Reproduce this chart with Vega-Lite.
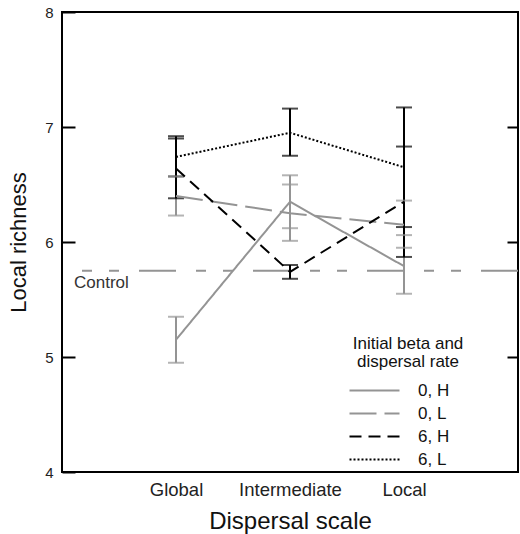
{
  "$schema": "https://vega.github.io/schema/vega-lite/v6.json",
  "autosize": {"type": "none"},
  "width": 456,
  "height": 460,
  "padding": {"left": 62, "top": 12, "right": 2, "bottom": 62},
  "background": "white",
  "config": {
    "font": "Liberation Sans",
    "view": {"stroke": "black", "strokeWidth": 2},
    "axis": {"labelColor": "#222", "titleColor": "#111", "titleFontWeight": "normal", "grid": false, "domain": false}
  },
  "datasets": {
    "pts": [
      {"scale": "Global", "series": "0, H", "beta": "0", "mean": 5.15, "lo": 4.95, "hi": 5.35},
      {"scale": "Global", "series": "0, L", "beta": "0", "mean": 6.40, "lo": 6.23, "hi": 6.57},
      {"scale": "Intermediate", "series": "0, H", "beta": "0", "mean": 6.35, "lo": 6.12, "hi": 6.58},
      {"scale": "Intermediate", "series": "0, L", "beta": "0", "mean": 6.25, "lo": 6.01, "hi": 6.50},
      {"scale": "Local", "series": "0, H", "beta": "0", "mean": 5.79, "lo": 5.55, "hi": 6.06},
      {"scale": "Local", "series": "0, L", "beta": "0", "mean": 6.15, "lo": 5.95, "hi": 6.36},
      {"scale": "Global", "series": "6, H", "beta": "6", "mean": 6.64, "lo": 6.38, "hi": 6.90},
      {"scale": "Global", "series": "6, L", "beta": "6", "mean": 6.74, "lo": 6.57, "hi": 6.92},
      {"scale": "Intermediate", "series": "6, H", "beta": "6", "mean": 5.74, "lo": 5.68, "hi": 5.80},
      {"scale": "Intermediate", "series": "6, L", "beta": "6", "mean": 6.95, "lo": 6.75, "hi": 7.16},
      {"scale": "Local", "series": "6, H", "beta": "6", "mean": 6.35, "lo": 5.87, "hi": 6.83},
      {"scale": "Local", "series": "6, L", "beta": "6", "mean": 6.65, "lo": 6.13, "hi": 7.17}
    ],
    "control": [{"label": "Control", "value": 5.75, "scale": "Global"}]
  },
  "resolve": {"axis": {"x": "independent", "y": "independent"}},
  "layer": [
    {
      "layer": [
        {
          "data": {"name": "control"},
          "mark": {"type": "rule", "color": "#949494", "strokeWidth": 2, "strokeDash": [37, 20, 10, 17, 10, 20]},
          "encoding": {
            "y": {"field": "value", "type": "quantitative", "scale": {"domain": [4, 8], "nice": false, "zero": false}, "axis": null}
          }
        },
        {
          "data": {"name": "control"},
          "mark": {"type": "text", "align": "left", "baseline": "top", "dx": -102, "dy": 4, "fontSize": 17, "color": "#333"},
          "encoding": {
            "x": {"field": "scale", "type": "nominal", "scale": {"type": "point", "domain": ["Global", "Intermediate", "Local"], "padding": 1}, "axis": null},
            "y": {"field": "value", "type": "quantitative", "axis": null},
            "text": {"field": "label"}
          }
        },
        {
          "data": {"name": "pts"},
          "mark": {"type": "rule", "strokeWidth": 2},
          "encoding": {
            "x": {"field": "scale", "type": "nominal", "axis": null},
            "y": {"field": "lo", "type": "quantitative", "axis": null},
            "y2": {"field": "hi"},
            "stroke": {"field": "beta", "type": "nominal", "legend": null,
              "scale": {"domain": ["0", "6"], "range": ["#949494", "#000000"]}}
          }
        },
        {
          "data": {"name": "pts"},
          "mark": {"type": "tick", "thickness": 2, "size": 16},
          "encoding": {
            "x": {"field": "scale", "type": "nominal", "axis": null},
            "y": {"field": "lo", "type": "quantitative", "axis": null},
            "fill": {"field": "beta", "type": "nominal", "legend": null,
              "scale": {"domain": ["0", "6"], "range": ["#949494", "#000000"]}}
          }
        },
        {
          "data": {"name": "pts"},
          "mark": {"type": "tick", "thickness": 2, "size": 16},
          "encoding": {
            "x": {"field": "scale", "type": "nominal", "axis": null},
            "y": {"field": "hi", "type": "quantitative", "axis": null},
            "fill": {"field": "beta", "type": "nominal", "legend": null}
          }
        },
        {
          "data": {"name": "pts"},
          "mark": {"type": "line", "strokeWidth": 2},
          "encoding": {
            "x": {"field": "scale", "type": "nominal", "axis": null},
            "y": {"field": "mean", "type": "quantitative", "axis": null},
            "color": {"field": "series", "type": "nominal",
              "scale": {"domain": ["0, H", "0, L", "6, H", "6, L"], "range": ["#949494", "#949494", "#000000", "#000000"]},
              "legend": {"orient": "none", "legendX": 291, "legendY": 324, "title": ["Initial beta and", "dispersal rate"], "titleFontSize": 17, "titleFontWeight": "normal", "titleColor": "#111", "titleAnchor": "middle", "titleAlign": "center", "titlePadding": 11, "titleLineHeight": 18, "labelFontSize": 17, "labelColor": "#111", "labelOffset": 35, "symbolType": "M-5,0H5", "symbolSize": 100, "symbolStrokeWidth": 2, "symbolFillColor": "transparent", "rowPadding": 5}},
            "strokeDash": {"field": "series", "type": "nominal",
              "scale": {"domain": ["0, H", "0, L", "6, H", "6, L"], "range": [[1, 0], [27, 8], [12, 7], [2, 2]]},
              "legend": {"orient": "none", "legendX": 291, "legendY": 324, "title": ["Initial beta and", "dispersal rate"], "titleFontSize": 17, "titleFontWeight": "normal", "titleColor": "#111", "titleAnchor": "middle", "titleAlign": "center", "titlePadding": 11, "titleLineHeight": 18, "labelFontSize": 17, "labelColor": "#111", "labelOffset": 35, "symbolType": "M-5,0H5", "symbolSize": 100, "symbolStrokeWidth": 2, "symbolFillColor": "transparent", "rowPadding": 5}},
            "order": {"field": "scale", "type": "nominal"}
          }
        }
      ]
    },
    {
      "data": {"name": "control"},
      "mark": {"type": "point", "opacity": 0},
      "encoding": {
        "x": {"field": "scale", "type": "nominal",
          "axis": {"orient": "bottom", "ticks": false, "labelAngle": 0, "labelAlign": "center", "labelBaseline": "top", "labelFontSize": 18.5, "labelPadding": 8, "title": "Dispersal scale", "titleFontSize": 24, "titlePadding": 11}},
        "y": {"field": "value", "type": "quantitative",
          "axis": {"orient": "left", "values": [4, 5, 6, 7, 8], "format": "d", "tickSize": -13, "tickWidth": 2, "tickColor": "black", "labelPadding": 22, "labelFontSize": 15, "title": "Local richness", "titleFontSize": 22, "titlePadding": 14}}
      }
    },
    {
      "data": {"name": "control"},
      "mark": {"type": "point", "opacity": 0},
      "encoding": {
        "y": {"field": "value", "type": "quantitative",
          "axis": {"orient": "right", "values": [5, 6, 7], "labels": false, "tickSize": -11, "tickWidth": 2, "tickColor": "black", "title": null}}
      }
    }
  ]
}
